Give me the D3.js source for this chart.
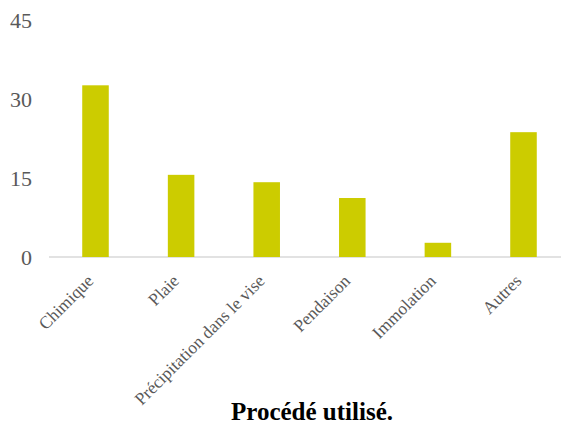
<!DOCTYPE html>
<html><head><meta charset="utf-8">
<script src="https://cdn.jsdelivr.net/npm/d3@7"></script>
<style>body{margin:0;background:#fff}svg{display:block}</style>
</head><body>
<script>
const categories = ["Chimique","Plaie","Précipitation dans le vise","Pendaison","Immolation","Autres"];
const values = [32.6, 15.6, 14.2, 11.2, 2.7, 23.7];
const yTicks = [0, 15, 30, 45];
const title = "Procédé utilisé.";

const W = 561, H = 428;
const svg = d3.select("body").append("svg").attr("width", W).attr("height", H);

const x = d3.scaleBand().domain(categories).range([52.7, 566.3]).paddingInner(0.69).paddingOuter(0.345);
const y = d3.scaleLinear().domain([0, 45]).range([257, 20]);

svg.append("line").attr("x1", 49).attr("x2", W).attr("y1", y(0)).attr("y2", y(0))
  .attr("stroke", "#d9d9d9").attr("stroke-width", 1.5);

const yAxis = d3.axisLeft(y).tickValues(yTicks).tickSize(0).tickPadding(0);
const gy = svg.append("g").attr("transform", "translate(32,0)").call(yAxis);
gy.select(".domain").remove();
gy.selectAll("text").attr("font-family", "'Liberation Serif', 'Times New Roman', serif")
  .attr("font-size", 22).attr("fill", "#595959").attr("dy", "0.35em");

svg.selectAll("rect.bar").data(values).join("rect").attr("class", "bar")
  .attr("x", (d, i) => x(categories[i])).attr("width", x.bandwidth())
  .attr("y", d => y(d)).attr("height", d => y(0) - y(d))
  .attr("fill", "#cccc00");

const xAxis = d3.axisBottom(x).tickSize(0).tickPadding(0);
const gx = svg.append("g").attr("transform", `translate(0,${y(0)})`).call(xAxis);
gx.select(".domain").remove();
gx.selectAll("text")
  .attr("font-family", "'Liberation Serif', 'Times New Roman', serif")
  .attr("font-size", 17.5).attr("fill", "#595959")
  .attr("text-anchor", "end").attr("dy", null).attr("y", 0)
  .attr("transform", "translate(-1,25) rotate(-45)");

svg.append("text").attr("x", 312).attr("y", 420).attr("text-anchor", "middle")
  .attr("font-family", "'Liberation Serif', 'Times New Roman', serif")
  .attr("font-weight", "bold").attr("font-size", 25).attr("fill", "#000").text(title);
</script>
</body></html>
